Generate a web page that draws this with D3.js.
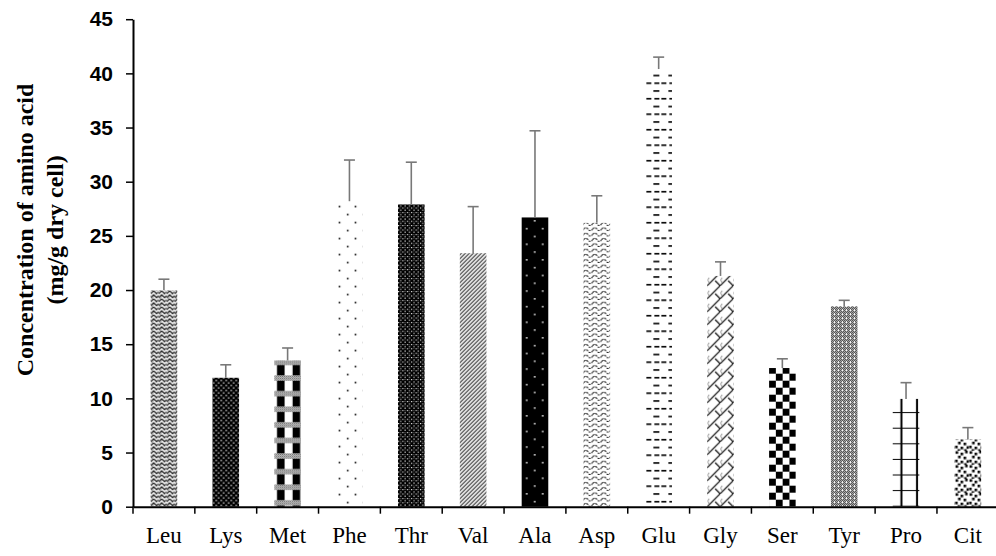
<!DOCTYPE html>
<html>
<head>
<meta charset="utf-8">
<script src="https://cdn.jsdelivr.net/npm/d3@7"></script>
<style>
  body { margin: 0; background: #fff; }
  svg { display: block; }
</style>
</head>
<body>
<svg id="chart" width="996" height="556"></svg>
<script>
// ===== DATA =====
const aminoAcids = ['Leu', 'Lys', 'Met', 'Phe', 'Thr', 'Val', 'Ala', 'Asp', 'Glu', 'Gly', 'Ser', 'Tyr', 'Pro', 'Cit'];
const concentration = [20.0, 11.9, 13.5, 28.2, 27.9, 23.4, 26.7, 26.2, 40.4, 21.3, 12.8, 18.5, 9.95, 6.2];
const errorUp = [1.0, 1.2, 1.15, 3.8, 3.9, 4.3, 8.0, 2.5, 1.1, 1.3, 0.85, 0.55, 1.5, 1.1];
const yTicks = [0, 5, 10, 15, 20, 25, 30, 35, 40, 45];

// ===== LAYOUT =====
const svg = d3.select('#chart');
const plotLeft = 133, plotRight = 998.8, plotTop = 19.2, plotBottom = 506.7;

const x = d3.scaleBand().domain(aminoAcids).range([plotLeft, plotRight]);
const y = d3.scaleLinear().domain([0, 45]).range([plotBottom, plotTop]);
const barW = x.bandwidth() * 0.43;
const barX = d => x(d) + (x.bandwidth() - barW) / 2;

// ===== FILL PATTERNS (one per bar, tiled from the bar's left edge) =====
const defs = svg.append('defs');

// fine checker used inside the Met bands
const fine = defs.append('pattern').attr('id', 'fine')
  .attr('patternUnits', 'userSpaceOnUse').attr('width', 2).attr('height', 2);
fine.append('rect').attr('width', 2).attr('height', 2).attr('fill', '#fff');
fine.append('rect').attr('width', 1).attr('height', 1).attr('fill', '#444');
fine.append('rect').attr('x', 1).attr('y', 1).attr('width', 1).attr('height', 1).attr('fill', '#444');

const bg = (p, w, h, c) => p.append('rect').attr('width', w).attr('height', h).attr('fill', c);
const sq = (p, px, py, s, c) => p.append('rect').attr('x', px).attr('y', py).attr('width', s).attr('height', s).attr('fill', c);
const line = (p, d, c, sw) => p.append('path').attr('d', d).attr('fill', 'none').attr('stroke', c).attr('stroke-width', sw);

const patternStyles = [
  // Leu - zigzag weave
  { w: 8, h: 8, draw: p => {
      bg(p, 8, 8, '#fff');
      line(p, 'M0,3 L3,0 L6,3 L8,1 M0,7 L3,4 L6,7 L8,5', '#000', 1.1);
      line(p, 'M1,8 L4,5 M5,4 L8,1', '#666', 0.8);
  } },
  // Lys - black with white dots
  { w: 5, h: 5, draw: p => {
      bg(p, 5, 5, '#000');
      sq(p, 0.6, 0.6, 1.3, '#fff');
      sq(p, 3.1, 3.1, 1.3, '#fff');
  } },
  // Met - black columns with checkered bands
  { w: 15.6, h: 15.6, draw: p => {
      bg(p, 15.6, 15.6, '#fff');
      p.append('rect').attr('x', 2.7).attr('width', 7.6).attr('height', 15.6).attr('fill', '#000');
      p.append('rect').attr('y', 9).attr('width', 15.6).attr('height', 5.5).attr('fill', 'url(#fine)');
  } },
  // Phe - sparse dots
  { w: 16, h: 16, draw: p => {
      bg(p, 16, 16, '#fff');
      sq(p, 2.6, 3, 1.6, '#000');
      sq(p, 10.8, 11, 1.6, '#000');
  } },
  // Thr - dark with white specks
  { w: 4.4, h: 4.4, draw: p => {
      bg(p, 4.4, 4.4, '#000');
      sq(p, 0, 0, 1.1, '#fff');
      sq(p, 2.2, 2.2, 1.1, '#fff');
      sq(p, 2.2, 0, 0.8, '#999');
  } },
  // Val - diagonal lines
  { w: 4, h: 4, draw: p => {
      bg(p, 4, 4, '#fff');
      line(p, 'M-1,1 L1,-1 M0,4 L4,0 M3,5 L5,3', '#222', 1.1);
  } },
  // Ala - black with sparse white dots
  { w: 16, h: 15.6, draw: p => {
      bg(p, 16, 15.6, '#000');
      sq(p, 4.3, 2, 1.5, '#fff');
      sq(p, 12.3, 9.8, 1.5, '#fff');
  } },
  // Asp - small waves
  { w: 9, h: 5.3, draw: p => {
      bg(p, 9, 5.3, '#fff');
      line(p, 'M0,3.5 Q2.25,0.5 4.5,3.5 T9,3.5', '#000', 1).attr('stroke-dasharray', '2.2,1');
  } },
  // Glu - short dashes
  { w: 15, h: 15.5, draw: p => {
      bg(p, 15, 15.5, '#fff');
      p.append('rect').attr('x', 8).attr('y', 2).attr('width', 6).attr('height', 1.6).attr('fill', '#000');
      p.append('rect').attr('x', 1).attr('y', 9.7).attr('width', 5).attr('height', 1.6).attr('fill', '#000');
      p.append('rect').attr('x', 9).attr('y', 9.7).attr('width', 5).attr('height', 1.6).attr('fill', '#000');
  } },
  // Gly - rope-like trellis
  { w: 13, h: 13, draw: p => {
      bg(p, 13, 13, '#fff');
      line(p, 'M-1,14 L14,-1', '#000', 1.2);
      line(p, 'M8,8 L13,13', '#000', 1.2);
      line(p, 'M2,5 Q-1,7 2,10', '#777', 0.9);
  } },
  // Ser - checkerboard
  { w: 13.6, h: 14, draw: p => {
      bg(p, 13.6, 14, '#fff');
      p.append('rect').attr('width', 6.8).attr('height', 7).attr('fill', '#000');
      p.append('rect').attr('x', 6.8).attr('y', 7).attr('width', 6.8).attr('height', 7).attr('fill', '#000');
  } },
  // Tyr - fine diamond weave
  { w: 4, h: 4, draw: p => {
      bg(p, 4, 4, '#fff');
      [[0, 0], [2, 0], [1, 1], [3, 1], [0, 2], [2, 2], [1, 3]].forEach(([a, b]) => sq(p, a, b, 1, '#000'));
  } },
  // Pro - large grid
  { w: 15.6, h: 15.6, draw: p => {
      bg(p, 15.6, 15.6, '#fff');
      p.append('rect').attr('x', 7.7).attr('width', 2).attr('height', 15.6).attr('fill', '#000');
      p.append('rect').attr('y', 14.6).attr('width', 15.6).attr('height', 2).attr('fill', '#000');
  } },
  // Cit - confetti
  { w: 14, h: 14, draw: p => {
      bg(p, 14, 14, '#fff');
      [[1, 0.5], [6, 2], [10.5, 0], [3.5, 5], [9, 6], [12, 9.5], [0.5, 9], [6, 10], [9.5, 12.5], [3, 12.5]]
        .forEach(([a, b]) => sq(p, a, b, 2.6, '#000'));
  } }
];

aminoAcids.forEach((d, i) => {
  const s = patternStyles[i];
  const p = defs.append('pattern')
    .attr('id', `pat${i}`)
    .attr('patternUnits', 'userSpaceOnUse')
    .attr('x', barX(d))
    .attr('y', plotBottom)
    .attr('width', s.w)
    .attr('height', s.h);
  s.draw(p);
});

// ===== BARS =====
const rows = aminoAcids.map((d, i) => ({ name: d, value: concentration[i], err: errorUp[i], i }));

svg.append('g').selectAll('rect')
  .data(rows)
  .join('rect')
  .attr('x', d => barX(d.name))
  .attr('y', d => y(d.value))
  .attr('width', barW)
  .attr('height', d => plotBottom - y(d.value))
  .attr('fill', d => `url(#pat${d.i})`);

// ===== ERROR BARS (upper only) =====
const eb = svg.append('g')
  .attr('stroke', '#787878')
  .attr('stroke-width', 1.6)
  .attr('fill', 'none');

eb.selectAll('.stem')
  .data(rows)
  .join('line')
  .attr('class', 'stem')
  .attr('x1', d => barX(d.name) + barW / 2)
  .attr('x2', d => barX(d.name) + barW / 2)
  .attr('y1', d => y(d.value))
  .attr('y2', d => y(d.value + d.err));

eb.selectAll('.cap')
  .data(rows)
  .join('line')
  .attr('class', 'cap')
  .attr('x1', d => barX(d.name) + barW / 2 - 5.5)
  .attr('x2', d => barX(d.name) + barW / 2 + 5.5)
  .attr('y1', d => y(d.value + d.err))
  .attr('y2', d => y(d.value + d.err));

// ===== AXES =====
const yAxisG = svg.append('g')
  .attr('transform', `translate(${plotLeft},0)`)
  .call(d3.axisLeft(y).tickValues(yTicks).tickSize(7).tickSizeOuter(0).tickPadding(13));
yAxisG.select('.domain').attr('stroke', '#000').attr('stroke-width', 2);
yAxisG.selectAll('.tick line').attr('stroke', '#000').attr('stroke-width', 1.5);
yAxisG.selectAll('text')
  .attr('fill', '#000')
  .style('font-family', '"Liberation Sans", Arial, sans-serif')
  .style('font-weight', 'bold')
  .style('font-size', '21px');

const xAxisG = svg.append('g')
  .attr('transform', `translate(0,${plotBottom})`)
  .call(d3.axisBottom(x).tickSize(0).tickSizeOuter(0).tickPadding(20));
xAxisG.select('.domain').attr('stroke', '#000').attr('stroke-width', 2);
xAxisG.selectAll('text')
  .attr('fill', '#000')
  .style('font-family', '"Liberation Serif", "Times New Roman", serif')
  .style('font-size', '23px');

// category boundary ticks
svg.append('g').selectAll('line')
  .data(aminoAcids.map(d => x(d)).concat([x.range()[1]]))
  .join('line')
  .attr('x1', d => d).attr('x2', d => d)
  .attr('y1', plotBottom).attr('y2', plotBottom + 7)
  .attr('stroke', '#000')
  .attr('stroke-width', 1.5);

// ===== Y TITLE =====
const yTitle = svg.append('text')
  .attr('transform', `translate(0,${(plotTop + plotBottom) / 2 - 33}) rotate(-90)`)
  .attr('text-anchor', 'middle')
  .style('font-family', '"Liberation Serif", "Times New Roman", serif')
  .style('font-weight', 'bold')
  .style('font-size', '24px')
  .attr('fill', '#000');
yTitle.append('tspan').attr('x', 0).attr('y', 33).text('Concentration of amino acid');
yTitle.append('tspan').attr('x', 0).attr('y', 63).text('(mg/g dry cell)');
</script>
</body>
</html>
